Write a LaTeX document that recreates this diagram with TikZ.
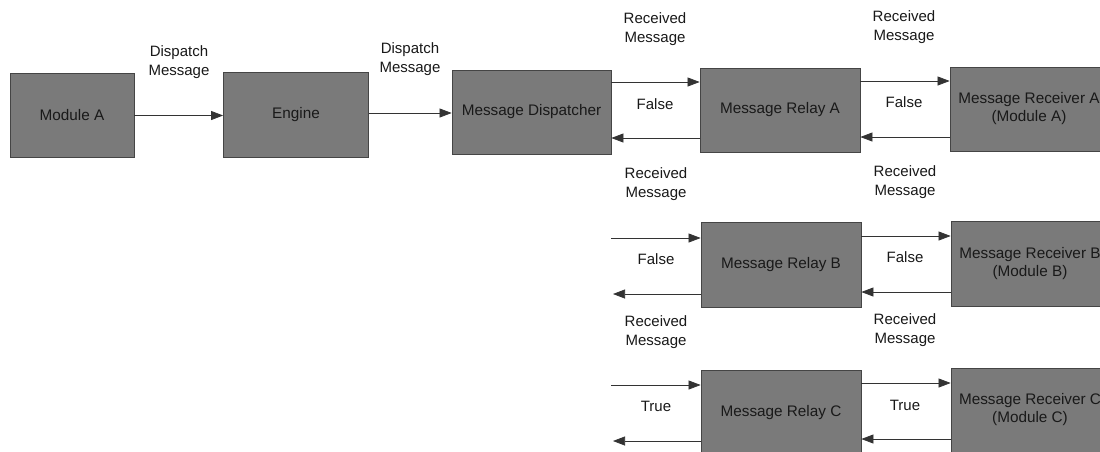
\documentclass[tikz,border=0pt]{standalone}
\usepackage{fontspec}
\setmainfont{Liberation Sans}
\usetikzlibrary{arrows.meta}
\definecolor{boxfill}{HTML}{7A7A7A}
\definecolor{boxline}{HTML}{454545}
\definecolor{wire}{HTML}{333333}
\begin{document}
\begin{tikzpicture}[x=1pt,y=-1pt,
  block/.style={draw=boxline,line width=0.8pt,fill=boxfill,inner sep=2pt,
    align=center,text=black!90,font=\fontsize{15.3}{18}\selectfont},
  lbl/.style={align=center,inner sep=0pt,text=black!90,font=\fontsize{15}{19}\selectfont},
  wireto/.style={draw=wire,line width=0.7pt,-{Triangle[length=12pt,width=9pt]}}]
\useasboundingbox (0,0) rectangle (1100,451);
\clip (0,0) rectangle (1100,451);
\fill[white] (0,0) rectangle (1100,451);

% main chain
\node[block,minimum width=124pt,minimum height=84pt] (modA) at (72,115.5) {Module A};
\node[block,minimum width=145pt,minimum height=85pt] (engine) at (296,114.5) {Engine};
\node[block,minimum width=159pt,minimum height=84pt] (disp) at (531.5,112) {Message Dispatcher};

% relays
\node[block,minimum width=160pt,minimum height=84pt] (relA) at (780,110) {Message Relay A};
\node[block,minimum width=160pt,minimum height=85pt] (relB) at (781,264.5) {Message Relay B};
\node[block,minimum width=160pt,minimum height=85pt] (relC) at (781,412.5) {Message Relay C};

% receivers
\node[block,minimum width=158pt,minimum height=84pt] (recA) at (1029,109) {Message Receiver A\\(Module A)};
\node[block,minimum width=158pt,minimum height=85pt] (recB) at (1030,263.5) {Message Receiver B\\(Module B)};
\node[block,minimum width=158pt,minimum height=84pt] (recC) at (1030,410) {Message Receiver C\\(Module C)};

% free ends of the lower relay rows
\coordinate (inB) at (611,238);
\coordinate (outB) at (613,294);
\coordinate (inC) at (611,385);
\coordinate (outC) at (613,441);

% dispatch connectors
\draw[wireto] (modA.east) -- (modA.east -| engine.west);
\draw[wireto] ([yshift=1.5pt]engine.east) -- ([yshift=1.5pt]engine.east -| disp.west);

% dispatcher <-> relay A
\draw[wireto] ([yshift=28pt]relA.west -| disp.east) -- ([yshift=28pt]relA.west);
\draw[wireto] ([yshift=-28pt]relA.west) -- ([yshift=-28pt]relA.west -| disp.east);

% relay A <-> receiver A
\draw[wireto] ([yshift=28pt]recA.west -| relA.east) -- ([yshift=28pt]recA.west);
\draw[wireto] ([yshift=-28pt]recA.west) -- ([yshift=-28pt]recA.west -| relA.east);

% relay B row
\draw[wireto] (inB) -- (inB -| relB.west);
\draw[wireto] (outB -| relB.west) -- (outB);
\draw[wireto] ([yshift=27.5pt]recB.west -| relB.east) -- ([yshift=27.5pt]recB.west);
\draw[wireto] ([yshift=-28.5pt]recB.west) -- ([yshift=-28.5pt]recB.west -| relB.east);

% relay C row
\draw[wireto] (inC) -- (inC -| relC.west);
\draw[wireto] (outC -| relC.west) -- (outC);
\draw[wireto] ([yshift=27pt]recC.west -| relC.east) -- ([yshift=27pt]recC.west);
\draw[wireto] ([yshift=-29pt]recC.west) -- ([yshift=-29pt]recC.west -| relC.east);

% connector labels
\node[lbl] (d1) at (179,62) {Dispatch\\Message};
\node[lbl] (d2) at (410,59) {Dispatch\\Message};

\node[lbl] (ra1) at (655,29.5) {Received\\Message};
\node[lbl] (fa1) at (655,104) {False};
\node[lbl] (ra2) at (904,27.5) {Received\\Message};
\node[lbl] (fa2) at (904,102) {False};

\node[lbl] (rb1) at (656,184) {Received\\Message};
\node[lbl] (fb1) at (656,259) {False};
\node[lbl] (rb2) at (905,182.5) {Received\\Message};
\node[lbl] (fb2) at (905,257) {False};

\node[lbl] (rc1) at (656,332) {Received\\Message};
\node[lbl] (tc1) at (656,406) {True};
\node[lbl] (rc2) at (905,330.5) {Received\\Message};
\node[lbl] (tc2) at (905,405) {True};
\end{tikzpicture}
\end{document}
